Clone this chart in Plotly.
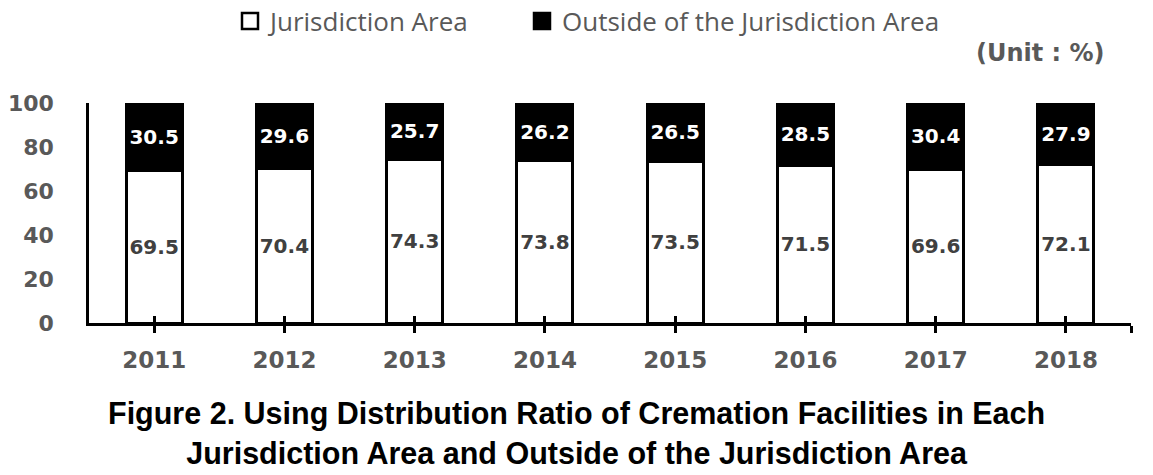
import plotly.graph_objects as go

years = ["2011", "2012", "2013", "2014", "2015", "2016", "2017", "2018"]
jurisdiction = [69.5, 70.4, 74.3, 73.8, 73.5, 71.5, 69.6, 72.1]
outside = [30.5, 29.6, 25.7, 26.2, 26.5, 28.5, 30.4, 27.9]
y_ticks = [0, 20, 40, 60, 80, 100]

xpos = list(range(len(years)))
BOLD = "DejaVu Sans"
GRAY = "#595959"

fig = go.Figure()
fig.add_trace(go.Bar(
    x=xpos, y=jurisdiction, name="Jurisdiction Area", showlegend=False,
    marker=dict(color="white", line=dict(color="black", width=3)),
    width=0.43,
    text=[f"{v:.1f}" for v in jurisdiction], textposition="inside",
    insidetextanchor="middle", textangle=0,
    textfont=dict(family=BOLD, size=20, color="#404040", weight="bold"),
))
fig.add_trace(go.Bar(
    x=xpos, y=outside, name="Outside of the Jurisdiction Area", showlegend=False,
    marker=dict(color="black", line=dict(color="black", width=3)),
    width=0.43,
    text=[f"{v:.1f}" for v in outside], textposition="inside",
    insidetextanchor="middle", textangle=0,
    textfont=dict(family=BOLD, size=20, color="white", weight="bold"),
))
# legend entries (square swatches)
fig.add_trace(go.Scatter(x=[None], y=[None], mode="markers", name="Jurisdiction Area",
                         marker=dict(symbol="square", size=16, color="white",
                                     line=dict(color="black", width=2.5)),
                         legend="legend"))
fig.add_trace(go.Scatter(x=[None], y=[None], mode="markers",
                         name="Outside of the Jurisdiction Area",
                         marker=dict(symbol="square", size=16, color="black",
                                     line=dict(color="black", width=2.5)),
                         legend="legend2"))
# helper trace so the overlay axis (crossing ticks) is drawn
fig.add_trace(go.Scatter(x=[0], y=[0], xaxis="x2", mode="markers",
                         marker=dict(opacity=0), showlegend=False, hoverinfo="skip"))

tickvals = xpos + [len(years) - 0.5]
ticktext = years + [""]

legfont = dict(family="Open Sans", size=26, color=GRAY)
fig.update_layout(
    barmode="stack",
    width=1153, height=475,
    margin=dict(l=89, r=22, t=103, b=152, autoexpand=False),
    paper_bgcolor="white", plot_bgcolor="white",
    uniformtext=dict(minsize=20, mode="show"),
    showlegend=True,
    legend=dict(orientation="h", xref="container", yref="container",
                x=230 / 1153, xanchor="left", y=1 - 21 / 475, yanchor="middle",
                font=legfont, bgcolor="rgba(0,0,0,0)"),
    legend2=dict(orientation="h", xref="container", yref="container",
                 x=522 / 1153, xanchor="left", y=1 - 21 / 475, yanchor="middle",
                 font=legfont, bgcolor="rgba(0,0,0,0)"),
    xaxis=dict(range=[-0.5, len(years) - 0.5], tickmode="array", tickvals=tickvals,
               ticktext=ticktext, showline=True, linecolor="black", linewidth=2.5,
               ticks="outside", ticklen=7, tickwidth=2.5, tickcolor="black",
               showgrid=False, zeroline=False, automargin=False,
               tickfont=dict(family=BOLD, size=23, color=GRAY, weight="bold"),
               ticklabelstandoff=8),
    xaxis2=dict(range=[-0.5, len(years) - 0.5], overlaying="x", tickmode="array",
                tickvals=tickvals, ticks="inside", ticklen=7, tickwidth=2.5,
                tickcolor="black", showline=False, showgrid=False, zeroline=False,
                anchor="y", side="bottom", showticklabels=False, automargin=False,
                layer="above traces"),
    yaxis=dict(range=[0, 100], tickmode="array", tickvals=y_ticks, showline=True,
               linecolor="black", linewidth=2.5, showgrid=False, zeroline=False,
               ticks="", automargin=False,
               tickfont=dict(family=BOLD, size=22, color=GRAY, weight="bold"),
               ticklabelstandoff=28),
)

fig.add_annotation(text="<b>(Unit : %)</b>", xref="paper", yref="paper",
                   x=(1107 - 89) / 1042, y=1 + 50 / 220, xanchor="right",
                   yanchor="middle", showarrow=False,
                   font=dict(family=BOLD, size=24, color=GRAY))
fig.add_annotation(
    text="<b>Figure 2. Using Distribution Ratio of Cremation Facilities in Each<br>"
         "Jurisdiction Area and Outside of the Jurisdiction Area</b>",
    xref="paper", yref="paper", x=0.468, y=-0.498, xanchor="center", yanchor="middle",
    showarrow=False, align="center",
    font=dict(family="Liberation Sans", size=30.5, color="black"))

fig.write_html("out.html", config={"displayModeBar": False},
               post_script="document.body.style.margin='0';")
